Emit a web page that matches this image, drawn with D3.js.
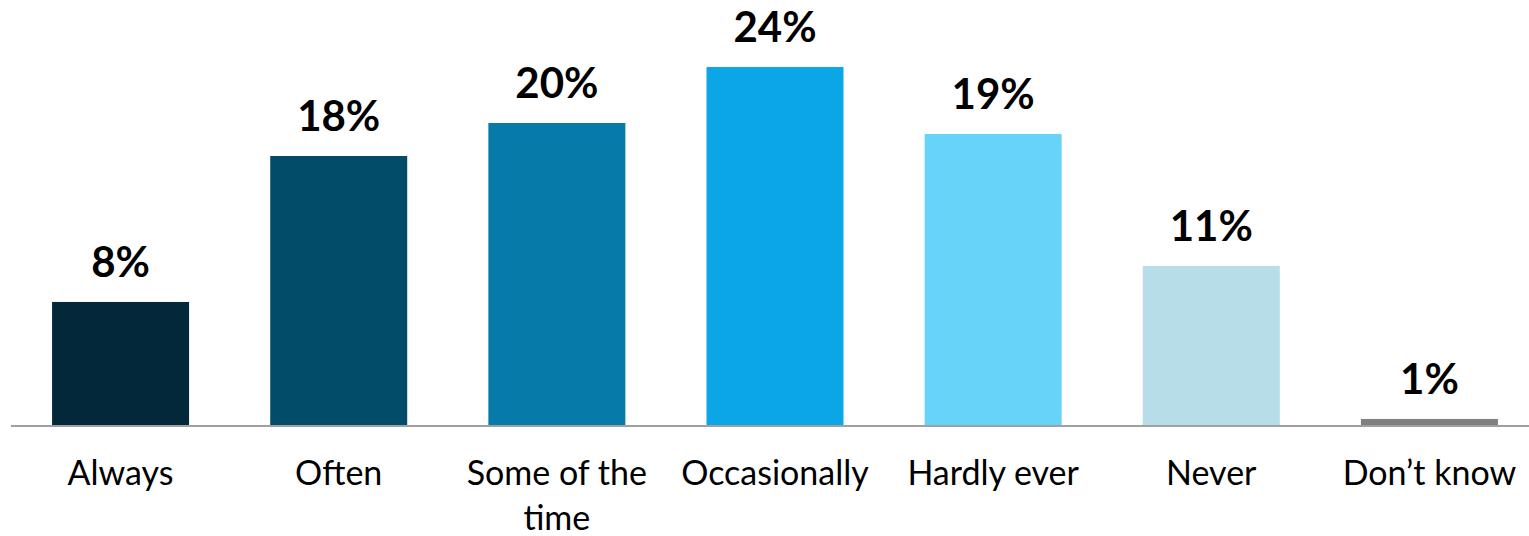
<!DOCTYPE html>
<html>
<head>
<meta charset="utf-8">
<script src="https://cdn.jsdelivr.net/npm/d3@7"></script>
<style>
  html, body { margin: 0; padding: 0; background: #ffffff; }
  svg { display: block; }
</style>
</head>
<body>
<svg id="chart" width="1529" height="536"></svg>
<script>
const categories = ["Always", "Often", "Some of the time", "Occasionally", "Hardly ever", "Never", "Don\u2019t know"];
const values = [8.27, 18.0, 20.2, 23.93, 19.47, 10.67, 0.47];
const valueLabels = ["8%", "18%", "20%", "24%", "19%", "11%", "1%"];
const colors = ["#03283a", "#024c69", "#067ba9", "#0aa6e5", "#67d3f8", "#b6dde8", "#808080"];
const categoryLines = [["Always"], ["Often"], ["Some of the", "time"], ["Occasionally"], ["Hardly ever"], ["Never"], ["Don\u2019t know"]];

const svg = d3.select("#chart");
const W = 1529, H = 536;
const baseY = 426;

const x = d3.scaleBand()
  .domain(categories)
  .range([11.5, 1538.5])
  .paddingInner(0.372)
  .paddingOuter(0.186);

const y = d3.scaleLinear()
  .domain([0, 25])
  .range([baseY, baseY - 25 * 15]);

const data = categories.map((c, i) => ({ c, v: values[i], label: valueLabels[i], color: colors[i], lines: categoryLines[i] }));

svg.append("g").selectAll("rect")
  .data(data).join("rect")
  .attr("x", d => x(d.c))
  .attr("width", x.bandwidth())
  .attr("y", d => y(d.v))
  .attr("height", d => y(0) - y(d.v))
  .attr("fill", d => d.color);

// axis line
const xAxis = d3.axisBottom(x).tickSize(0).tickFormat("");
const ax = svg.append("g").attr("transform", `translate(0,${baseY})`).call(xAxis);
ax.select(".domain").remove();
ax.append("line").attr("x1", 11).attr("x2", W).attr("y1", 0).attr("y2", 0)
  .attr("stroke", "#a0a0a0").attr("stroke-width", 2);

// value labels
svg.append("g").selectAll("text")
  .data(data).join("text")
  .attr("x", d => x(d.c) + x.bandwidth() / 2)
  .attr("y", d => y(d.v) - 25)
  .attr("text-anchor", "middle")
  .attr("font-family", "Lato, 'Open Sans', sans-serif")
  .attr("font-weight", "bold")
  .attr("font-size", 42)
  .attr("fill", "#000")
  .text(d => d.label);

// category labels
const cg = svg.append("g").selectAll("text")
  .data(data).join("text")
  .attr("x", d => x(d.c) + x.bandwidth() / 2)
  .attr("y", 485)
  .attr("text-anchor", "middle")
  .attr("font-family", "Lato, 'Open Sans', sans-serif")
  .attr("font-size", 34)
  .attr("fill", "#000");
cg.selectAll("tspan")
  .data(d => d.lines.map(l => ({ l, cx: x(d.c) + x.bandwidth() / 2 })))
  .join("tspan")
  .attr("x", t => t.cx)
  .attr("dy", (t, i) => i === 0 ? 0 : 45)
  .text(t => t.l);
</script>
</body>
</html>
